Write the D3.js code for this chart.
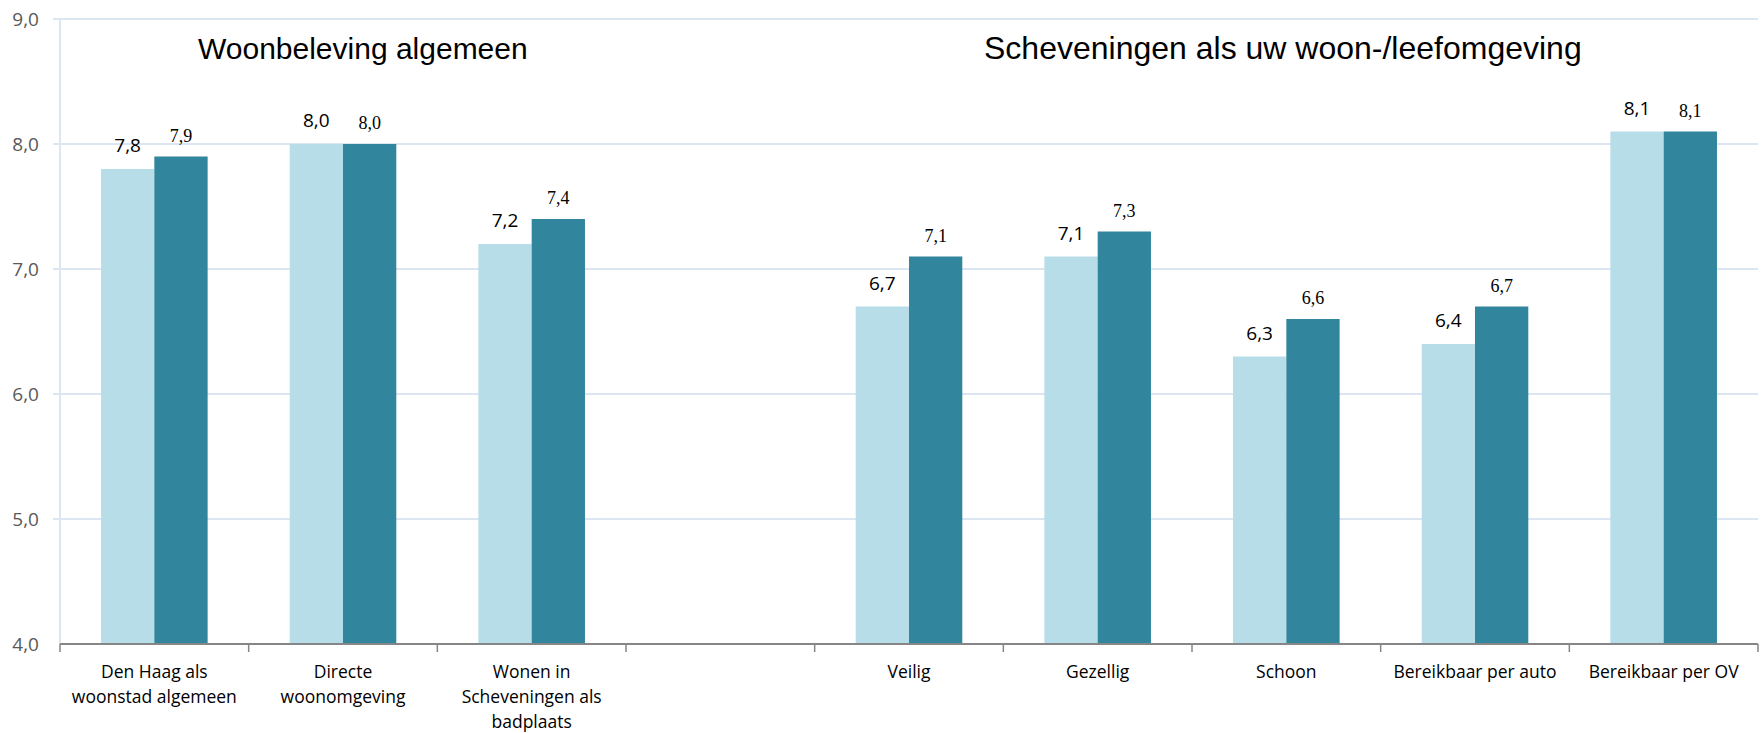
<!DOCTYPE html>
<html>
<head>
<meta charset="utf-8">
<script src="https://cdn.jsdelivr.net/npm/d3@7"></script>
<style>
  body { margin: 0; background: #fff; }
  svg { display: block; }
</style>
</head>
<body>
<div id="chart"></div>
<script>
// categories (empty slot separates the two groups)
const categories = [
  'Den Haag als woonstad algemeen',
  'Directe woonomgeving',
  'Wonen in Scheveningen als badplaats',
  '',
  'Veilig',
  'Gezellig',
  'Schoon',
  'Bereikbaar per auto',
  'Bereikbaar per OV'
];
// wrapped label lines as they appear in the chart
const categoryLines = [
  ['Den Haag als', 'woonstad algemeen'],
  ['Directe', 'woonomgeving'],
  ['Wonen in', 'Scheveningen als', 'badplaats'],
  [],
  ['Veilig'],
  ['Gezellig'],
  ['Schoon'],
  ['Bereikbaar per auto'],
  ['Bereikbaar per OV']
];
const seriesNames = ['s1', 's2'];
const series1 = [7.8, 8.0, 7.2, null, 6.7, 7.1, 6.3, 6.4, 8.1];
const series2 = [7.9, 8.0, 7.4, null, 7.1, 7.3, 6.6, 6.7, 8.1];
const yTicks = [4, 5, 6, 7, 8, 9];
const titles = ['Woonbeleving algemeen', 'Scheveningen als uw woon-/leefomgeving'];

const colors = { s1: '#b7dde8', s2: '#31859c' };

const W = 1762, H = 733;
const margin = { top: 19, right: 4, bottom: 89, left: 60 };
const width = W - margin.left - margin.right;
const height = H - margin.top - margin.bottom;

const svg = d3.select('#chart').append('svg')
  .attr('width', W)
  .attr('height', H);

const g = svg.append('g')
  .attr('transform', `translate(${margin.left},${margin.top})`);

const x0 = d3.scaleBand().domain(categories).range([0, width]);
const bw = x0.bandwidth();
const groupW = bw * 0.565;
const x1 = d3.scaleBand().domain(seriesNames)
  .range([(bw - groupW) / 2, (bw + groupW) / 2]);

const y = d3.scaleLinear().domain([4, 9]).range([height, 0]);

// gridlines
g.append('g')
  .selectAll('line')
  .data(yTicks.filter(d => d > 4))
  .join('line')
  .attr('x1', -7)
  .attr('x2', width)
  .attr('y1', d => y(d))
  .attr('y2', d => y(d))
  .attr('stroke', '#dce6f2')
  .attr('stroke-width', 2);

// y axis line
g.append('line')
  .attr('x1', 0).attr('x2', 0)
  .attr('y1', 0).attr('y2', height)
  .attr('stroke', '#dce6f2')
  .attr('stroke-width', 2);

// y tick labels
g.append('g')
  .selectAll('text')
  .data(yTicks)
  .join('text')
  .attr('x', -21)
  .attr('y', d => y(d))
  .attr('dy', '0.35em')
  .attr('text-anchor', 'end')
  .attr('font-family', 'Open Sans, sans-serif')
  .attr('font-size', 19)
  .attr('fill', '#595959')
  .text(d => d.toFixed(1).replace('.', ','));

// bars
const data = categories.map((c, i) => ({ cat: c, idx: i, s1: series1[i], s2: series2[i] }));

const groups = g.append('g')
  .selectAll('g')
  .data(data)
  .join('g')
  .attr('transform', (d, i) => `translate(${x0.step() * i},0)`);

groups.selectAll('rect')
  .data(d => seriesNames.filter(k => d[k] != null).map(k => ({ key: k, value: d[k] })))
  .join('rect')
  .attr('x', d => x1(d.key))
  .attr('width', x1.bandwidth())
  .attr('y', d => y(d.value))
  .attr('height', d => height - y(d.value))
  .attr('fill', d => colors[d.key]);

// value labels
groups.selectAll('text.val')
  .data(d => seriesNames.filter(k => d[k] != null).map(k => ({ key: k, value: d[k] })))
  .join('text')
  .attr('class', 'val')
  .attr('x', d => x1(d.key) + x1.bandwidth() / 2)
  .attr('y', d => y(d.value) - (d.key === 's1' ? 17 : 15))
  .attr('text-anchor', 'middle')
  .attr('font-family', d => d.key === 's1' ? 'Open Sans, sans-serif' : 'Liberation Serif, serif')
  .attr('font-size', d => d.key === 's1' ? 19 : 18)
  .attr('fill', '#000')
  .text(d => d.value.toFixed(1).replace('.', ','));

// x axis
const xAxis = g.append('g').attr('transform', `translate(0,${height})`);
xAxis.append('line')
  .attr('x1', 0).attr('x2', width)
  .attr('y1', 0).attr('y2', 0)
  .attr('stroke', '#868686')
  .attr('stroke-width', 2);
xAxis.selectAll('line.tick')
  .data(d3.range(categories.length + 1))
  .join('line')
  .attr('class', 'tick')
  .attr('x1', i => x0.step() * i)
  .attr('x2', i => x0.step() * i)
  .attr('y1', 0)
  .attr('y2', 8)
  .attr('stroke', '#868686')
  .attr('stroke-width', 1.5);

// category labels
xAxis.selectAll('text.cat')
  .data(categoryLines)
  .join('text')
  .attr('class', 'cat')
  .attr('text-anchor', 'middle')
  .attr('font-family', 'Open Sans, sans-serif')
  .attr('font-size', 17.5)
  .attr('fill', '#000')
  .each(function (lines, i) {
    d3.select(this).selectAll('tspan')
      .data(lines)
      .join('tspan')
      .attr('x', x0.step() * i + bw / 2)
      .attr('y', (d, j) => 34 + j * 25)
      .text(d => d);
  });

// titles
svg.append('text')
  .attr('x', 198).attr('y', 59)
  .attr('font-family', 'Liberation Sans, Arial, sans-serif')
  .attr('font-size', 30)
  .attr('fill', '#000')
  .text(titles[0]);
svg.append('text')
  .attr('x', 984).attr('y', 59)
  .attr('font-family', 'Liberation Sans, Arial, sans-serif')
  .attr('font-size', 32)
  .attr('fill', '#000')
  .text(titles[1]);
</script>
</body>
</html>
